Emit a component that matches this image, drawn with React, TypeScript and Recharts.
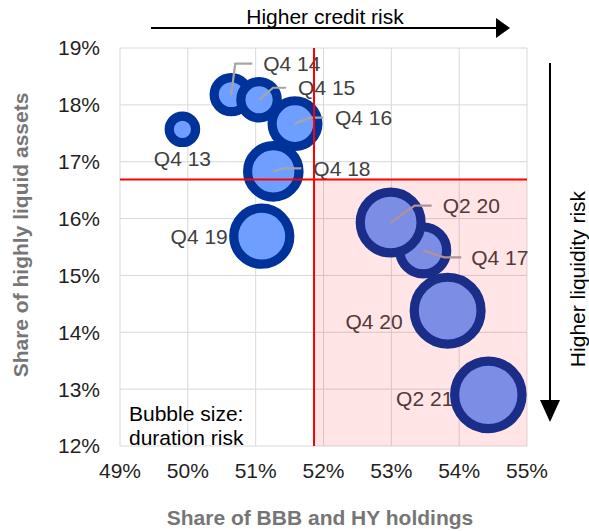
import {
  ScatterChart,
  Scatter,
  XAxis,
  YAxis,
  ZAxis,
  CartesianGrid,
  ReferenceLine,
  ReferenceArea,
} from "recharts";

const quarters = ["Q4 13", "Q4 14", "Q4 15", "Q4 16", "Q4 17", "Q4 18", "Q4 19", "Q2 20", "Q4 20", "Q2 21"];
const bbbShare = [49.92, 50.64, 51.05, 51.58, 53.47, 51.26, 51.09, 52.99, 53.83, 54.43];
const liquidShare = [17.57, 18.18, 18.09, 17.67, 15.44, 16.83, 15.69, 15.93, 14.38, 12.9];
const durationRisk = [1.74, 2.92, 3.31, 5.24, 5.48, 6.6, 7.84, 9.24, 11.16, 11.36];

const xTicks = [49, 50, 51, 52, 53, 54, 55];
const yTicks = [12, 13, 14, 15, 16, 17, 18, 19];

const creditLine = 51.86;
const liquidityLine = 16.685;

const FONT = "'Liberation Sans', Arial, sans-serif";

// label placement relative to bubble centre (leader elbow, leader end, text)
const labelLayout: Record<
  string,
  { elbow?: [number, number]; end?: number; tx: number; ty: number; anchor: "start" | "middle" | "end" }
> = {
  "Q4 13": { tx: 0, ty: 29, anchor: "middle" },
  "Q4 14": { elbow: [4, -31], end: 21, tx: 32, ty: -31, anchor: "start" },
  "Q4 15": { elbow: [14, -12], end: 27, tx: 39, ty: -12, anchor: "start" },
  "Q4 16": { elbow: [15, -6], end: 28, tx: 40, ty: -6, anchor: "start" },
  "Q4 17": { elbow: [21, 7], end: 38, tx: 48, ty: 7, anchor: "start" },
  "Q4 18": { elbow: [10, -3], end: 28, tx: 40, ty: -3, anchor: "start" },
  "Q4 19": { tx: -34, ty: 0, anchor: "end" },
  "Q2 20": { elbow: [24, -17], end: 41, tx: 52, ty: -17, anchor: "start" },
  "Q4 20": { tx: -45, ty: 11, anchor: "end" },
  "Q2 21": { tx: -35, ty: 4, anchor: "end" },
};

const data = quarters.map((q, i) => ({
  name: q,
  x: bbbShare[i],
  y: liquidShare[i],
  z: durationRisk[i],
}));

const Bubble = (props: any) => {
  const { cx, cy } = props;
  const r = props.size != null ? Math.sqrt(props.size / Math.PI) : props.width / 2;
  return <circle cx={cx} cy={cy} r={r} fill="#6e9eff" stroke="#003399" strokeWidth={9.2} />;
};

const BubbleLabel = (props: any) => {
  const { cx, cy, payload } = props;
  const l = labelLayout[payload.name];
  if (!l) return <g />;
  return (
    <g>
      {l.elbow && (
        <polyline
          points={`${cx},${cy} ${cx + l.elbow[0]},${cy + l.elbow[1]} ${cx + (l.end ?? 0)},${cy + l.elbow[1]}`}
          fill="none"
          stroke="#a6a6a6"
          strokeWidth={2.2}
        />
      )}
      <text
        x={cx + l.tx}
        y={cy + l.ty}
        textAnchor={l.anchor}
        dominantBaseline="central"
        fontSize={21}
        fontFamily={FONT}
        fill="#404040"
      >
        {payload.name}
      </text>
    </g>
  );
};

export default function App() {
  const tick = { fontSize: 21, fontFamily: FONT, fill: "#1f1f1f" };
  return (
    <div style={{ position: "absolute", left: 0, top: 0, width: 589, height: 531, background: "#fff" }}>
      <ScatterChart width={589} height={531} margin={{ top: 48, right: 62, bottom: 0, left: 20 }}>
        <CartesianGrid stroke="#d9d9d9" strokeWidth={1} />
        <XAxis
          type="number"
          dataKey="x"
          domain={[49, 55]}
          ticks={xTicks}
          tickFormatter={(v: number) => `${v}%`}
          axisLine={false}
          tickLine={false}
          tickSize={0}
          tickMargin={17}
          height={85}
          tick={tick}
          interval={0}
        />
        <YAxis
          type="number"
          dataKey="y"
          domain={[12, 19]}
          ticks={yTicks}
          tickFormatter={(v: number) => `${v}%`}
          axisLine={false}
          tickLine={false}
          tickSize={0}
          tickMargin={20}
          width={100}
          tick={tick}
          interval={0}
        />
        <ZAxis type="number" dataKey="z" domain={[0, 12]} range={[0, 1200 * Math.PI]} />
        <Scatter data={data} shape={Bubble} isAnimationActive={false} />
        <Scatter data={data} shape={BubbleLabel} isAnimationActive={false} />
        <ReferenceArea
          x1={creditLine}
          x2={55}
          y1={12}
          y2={liquidityLine}
          fill="#ff0000"
          fillOpacity={0.1}
          stroke="none"
          {...({ zIndex: 700 } as any)}
        />
        <ReferenceLine x={creditLine} stroke="#ff0000" strokeWidth={2} {...({ zIndex: 800 } as any)} />
        <ReferenceLine y={liquidityLine} stroke="#ff0000" strokeWidth={2} {...({ zIndex: 800 } as any)} />
      </ScatterChart>
      <svg
        width={589}
        height={531}
        style={{ position: "absolute", left: 0, top: 0, pointerEvents: "none" }}
        fontFamily={FONT}
      >
        <text x={325} y={16} textAnchor="middle" dominantBaseline="central" fontSize={21} fill="#000">
          Higher credit risk
        </text>
        <line x1={151} y1={28} x2={497} y2={28} stroke="#000" strokeWidth={2} />
        <polygon points="496,18 510,28 496,38" fill="#000" />

        <line x1={550} y1={63} x2={550} y2={402} stroke="#000" strokeWidth={2} />
        <polygon points="540,400 560,400 550,422" fill="#000" />
        <text
          x={577}
          y={279}
          transform="rotate(-90 577 279)"
          textAnchor="middle"
          dominantBaseline="central"
          fontSize={21}
          fill="#000"
        >
          Higher liquidity risk
        </text>

        <text x={20} y={235} transform="rotate(-90 20 235)" textAnchor="middle" dominantBaseline="central" fontSize={21} fontWeight="bold" fill="#767676">
          Share of highly liquid assets
        </text>
        <text x={320} y={517} textAnchor="middle" dominantBaseline="central" fontSize={21} fontWeight="bold" fill="#767676">
          Share of BBB and HY holdings
        </text>

        <text x={129} y={413} dominantBaseline="central" fontSize={21} fill="#000">
          Bubble size:
        </text>
        <text x={129} y={437} dominantBaseline="central" fontSize={21} fill="#000">
          duration risk
        </text>
      </svg>
    </div>
  );
}
